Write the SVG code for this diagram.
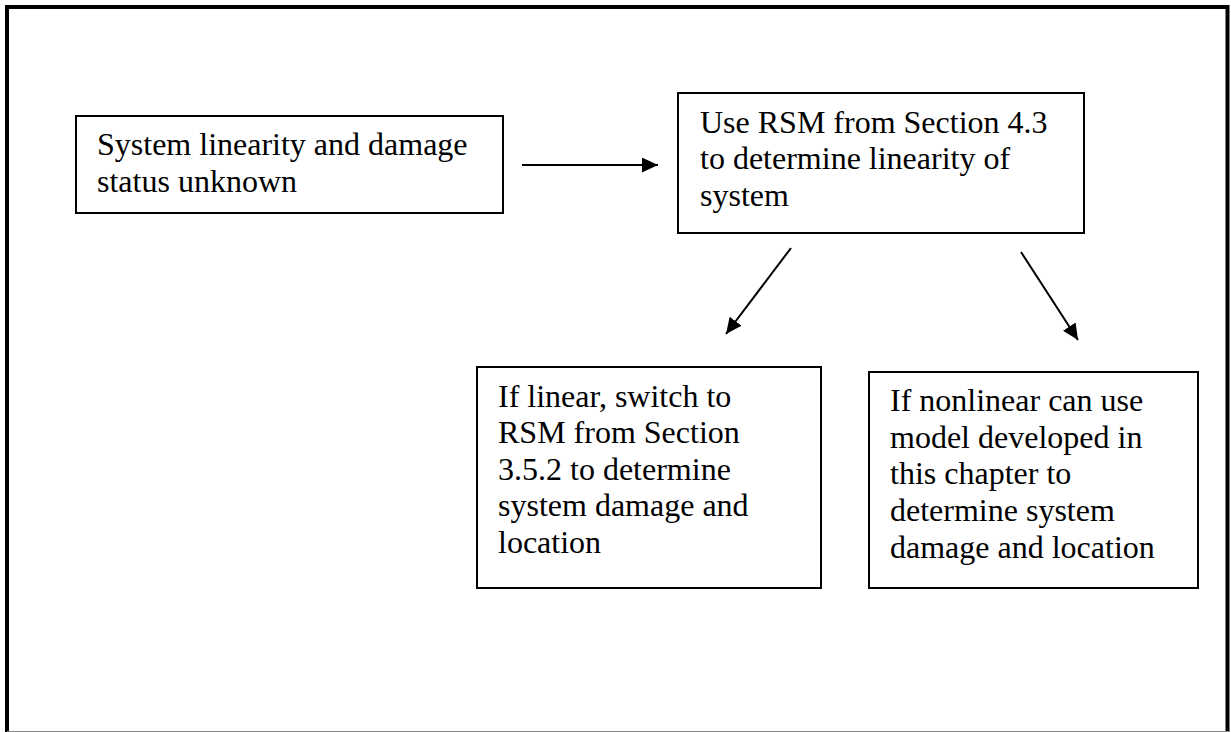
<svg xmlns="http://www.w3.org/2000/svg" width="1231" height="732" viewBox="0 0 1231 732">
<defs>
<style>
.box{fill:#fff;stroke:#000;stroke-width:2}
.t{font-family:"Liberation Serif","Times New Roman",serif;font-size:32px;fill:#000}
.c{stroke:#000;stroke-width:2;fill:none}
</style>
<marker id="ah" markerWidth="16" markerHeight="15" refX="16" refY="7.5" orient="auto" markerUnits="userSpaceOnUse">
<path d="M0,0 L16,7.5 L0,15 Z" fill="#000"/>
</marker>
</defs>
<rect width="1231" height="732" fill="#fff"/>
<path d="M7,732 V7 H1227.5 V732" fill="none" stroke="#000" stroke-width="4"/>
<line x1="7" y1="731.5" x2="1229" y2="731.5" stroke="#888" stroke-width="1"/>
<g id="n1">
<rect class="box" x="76" y="116" width="427" height="97"/>
<text class="t"><tspan x="97" y="155">System linearity and damage</tspan><tspan x="97" y="192">status unknown</tspan></text>
</g>
<g id="n2">
<rect class="box" x="678" y="93" width="406" height="140"/>
<text class="t"><tspan x="700" y="133">Use RSM from Section 4.3</tspan><tspan x="700" y="169">to determine linearity of</tspan><tspan x="700" y="206">system</tspan></text>
</g>
<g id="n3">
<rect class="box" x="477" y="367" width="344" height="221"/>
<text class="t"><tspan x="498" y="407">If linear, switch to</tspan><tspan x="498" y="443">RSM from Section</tspan><tspan x="498" y="480">3.5.2 to determine</tspan><tspan x="498" y="516">system damage and</tspan><tspan x="498" y="553">location</tspan></text>
</g>
<g id="n4">
<rect class="box" x="869" y="372" width="329" height="216"/>
<text class="t"><tspan x="890" y="411">If nonlinear can use</tspan><tspan x="890" y="448">model developed in</tspan><tspan x="890" y="484">this chapter to</tspan><tspan x="890" y="521">determine system</tspan><tspan x="890" y="558">damage and location</tspan></text>
</g>
<g id="connectors">
<line class="c" x1="522" y1="165" x2="658" y2="165" marker-end="url(#ah)"/>
<line class="c" x1="791" y1="248" x2="726" y2="334" marker-end="url(#ah)"/>
<line class="c" x1="1021" y1="252" x2="1078" y2="340" marker-end="url(#ah)"/>
</g>
</svg>
